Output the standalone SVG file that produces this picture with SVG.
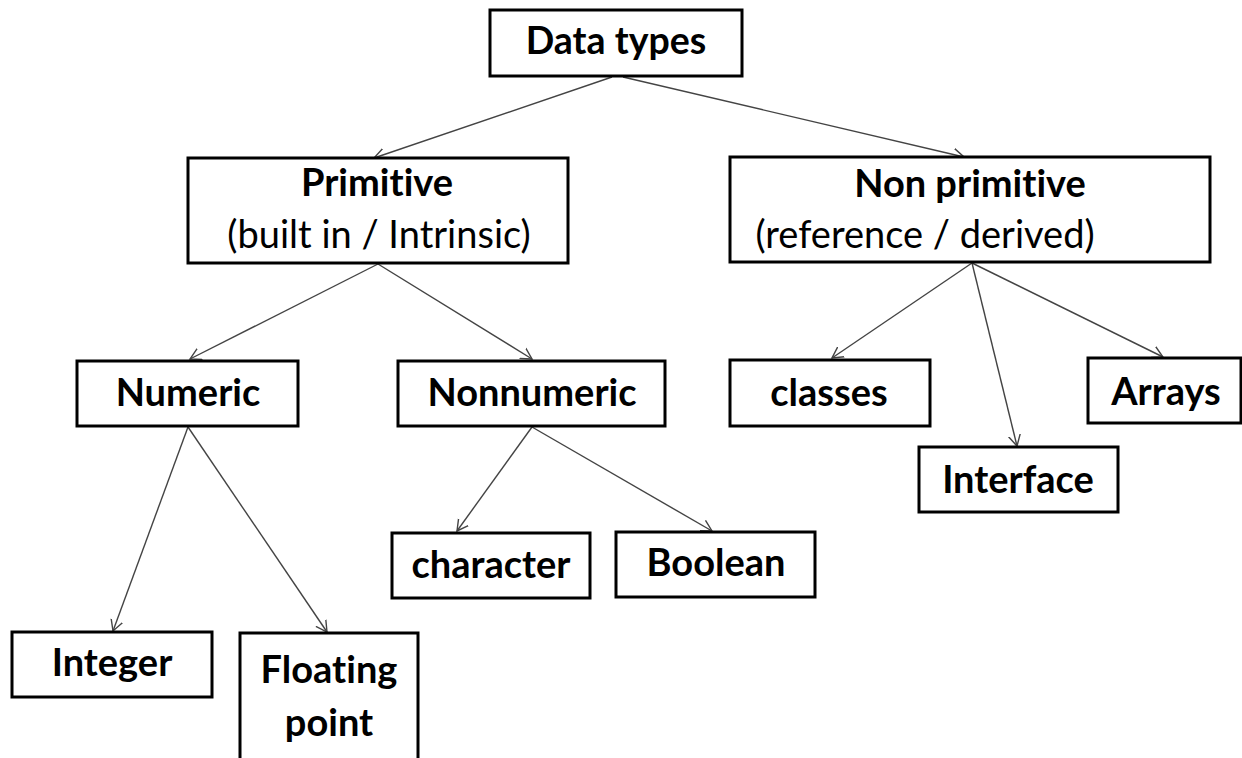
<svg xmlns="http://www.w3.org/2000/svg" width="1242" height="758" viewBox="0 0 1242 758">
<defs>
<marker id="arr" markerUnits="userSpaceOnUse" markerWidth="14" markerHeight="14" refX="11" refY="6" orient="auto" viewBox="0 0 14 12">
<path d="M0,0 L11,6 L0,12" fill="none" stroke="#444" stroke-width="1.4"/>
</marker>
<style>
.box{fill:#fff;stroke:#000;stroke-width:3}
.t{font-family:Lato,"Liberation Sans",sans-serif;font-weight:bold;font-size:38px;fill:#000;text-anchor:middle;font-variant-ligatures:none}
.r{font-family:Lato,"Liberation Sans",sans-serif;font-weight:normal;font-size:38px;fill:#000;text-anchor:middle;font-variant-ligatures:none}
.c{stroke:#444;stroke-width:1.4;fill:none;marker-end:url(#arr)}
</style>
</defs>
<rect width="1242" height="758" fill="#fff"/>
<g id="connectors">
<line class="c" x1="612" y1="77" x2="374" y2="158"/>
<line class="c" x1="623" y1="77" x2="964" y2="157"/>
<line class="c" x1="378" y1="264" x2="190" y2="359"/>
<line class="c" x1="378" y1="264" x2="532" y2="359"/>
<line class="c" x1="188" y1="427" x2="113" y2="631"/>
<line class="c" x1="188" y1="427" x2="327" y2="632"/>
<line class="c" x1="532" y1="427" x2="457" y2="531"/>
<line class="c" x1="532" y1="427" x2="712" y2="531"/>
<line class="c" x1="972" y1="263" x2="832" y2="358"/>
<line class="c" x1="972" y1="263" x2="1017" y2="446"/>
<line class="c" x1="972" y1="263" x2="1163" y2="357"/>
</g>
<g id="datatypes"><rect class="box" x="490" y="10" width="252" height="66"/><text class="t" x="616" y="54" style="font-size:37.5px">Data types</text></g>
<g id="primitive"><rect class="box" x="188" y="158" width="380" height="105"/><text class="t" x="377" y="196">Primitive</text><text class="r" x="379" y="248">(built in / Intrinsic)</text></g>
<g id="nonprimitive"><rect class="box" x="730" y="157" width="480" height="105"/><text class="t" x="970" y="197">Non primitive</text><text class="r" x="925" y="248">(reference / derived)</text></g>
<g id="numeric"><rect class="box" x="77" y="361" width="221" height="65"/><text class="t" x="188" y="406">Numeric</text></g>
<g id="nonnumeric"><rect class="box" x="398" y="361" width="267" height="65"/><text class="t" x="532" y="406">Nonnumeric</text></g>
<g id="classes"><rect class="box" x="730" y="360" width="200" height="66"/><text class="t" x="829" y="406">classes</text></g>
<g id="arrays"><rect class="box" x="1088" y="358" width="153" height="65"/><text class="t" x="1166" y="405">Arrays</text></g>
<g id="interface"><rect class="box" x="919" y="447" width="199" height="65"/><text class="t" x="1018" y="493">Interface</text></g>
<g id="character"><rect class="box" x="392" y="533" width="198" height="65"/><text class="t" x="491" y="578">character</text></g>
<g id="boolean"><rect class="box" x="616" y="532" width="199" height="65"/><text class="t" x="716" y="576">Boolean</text></g>
<g id="integer"><rect class="box" x="12" y="632" width="200" height="65"/><text class="t" x="112" y="676">Integer</text></g>
<g id="floating"><rect class="box" x="240" y="633" width="178" height="140"/><text class="t" x="329" y="683">Floating</text><text class="t" x="329" y="736">point</text></g>
</svg>
